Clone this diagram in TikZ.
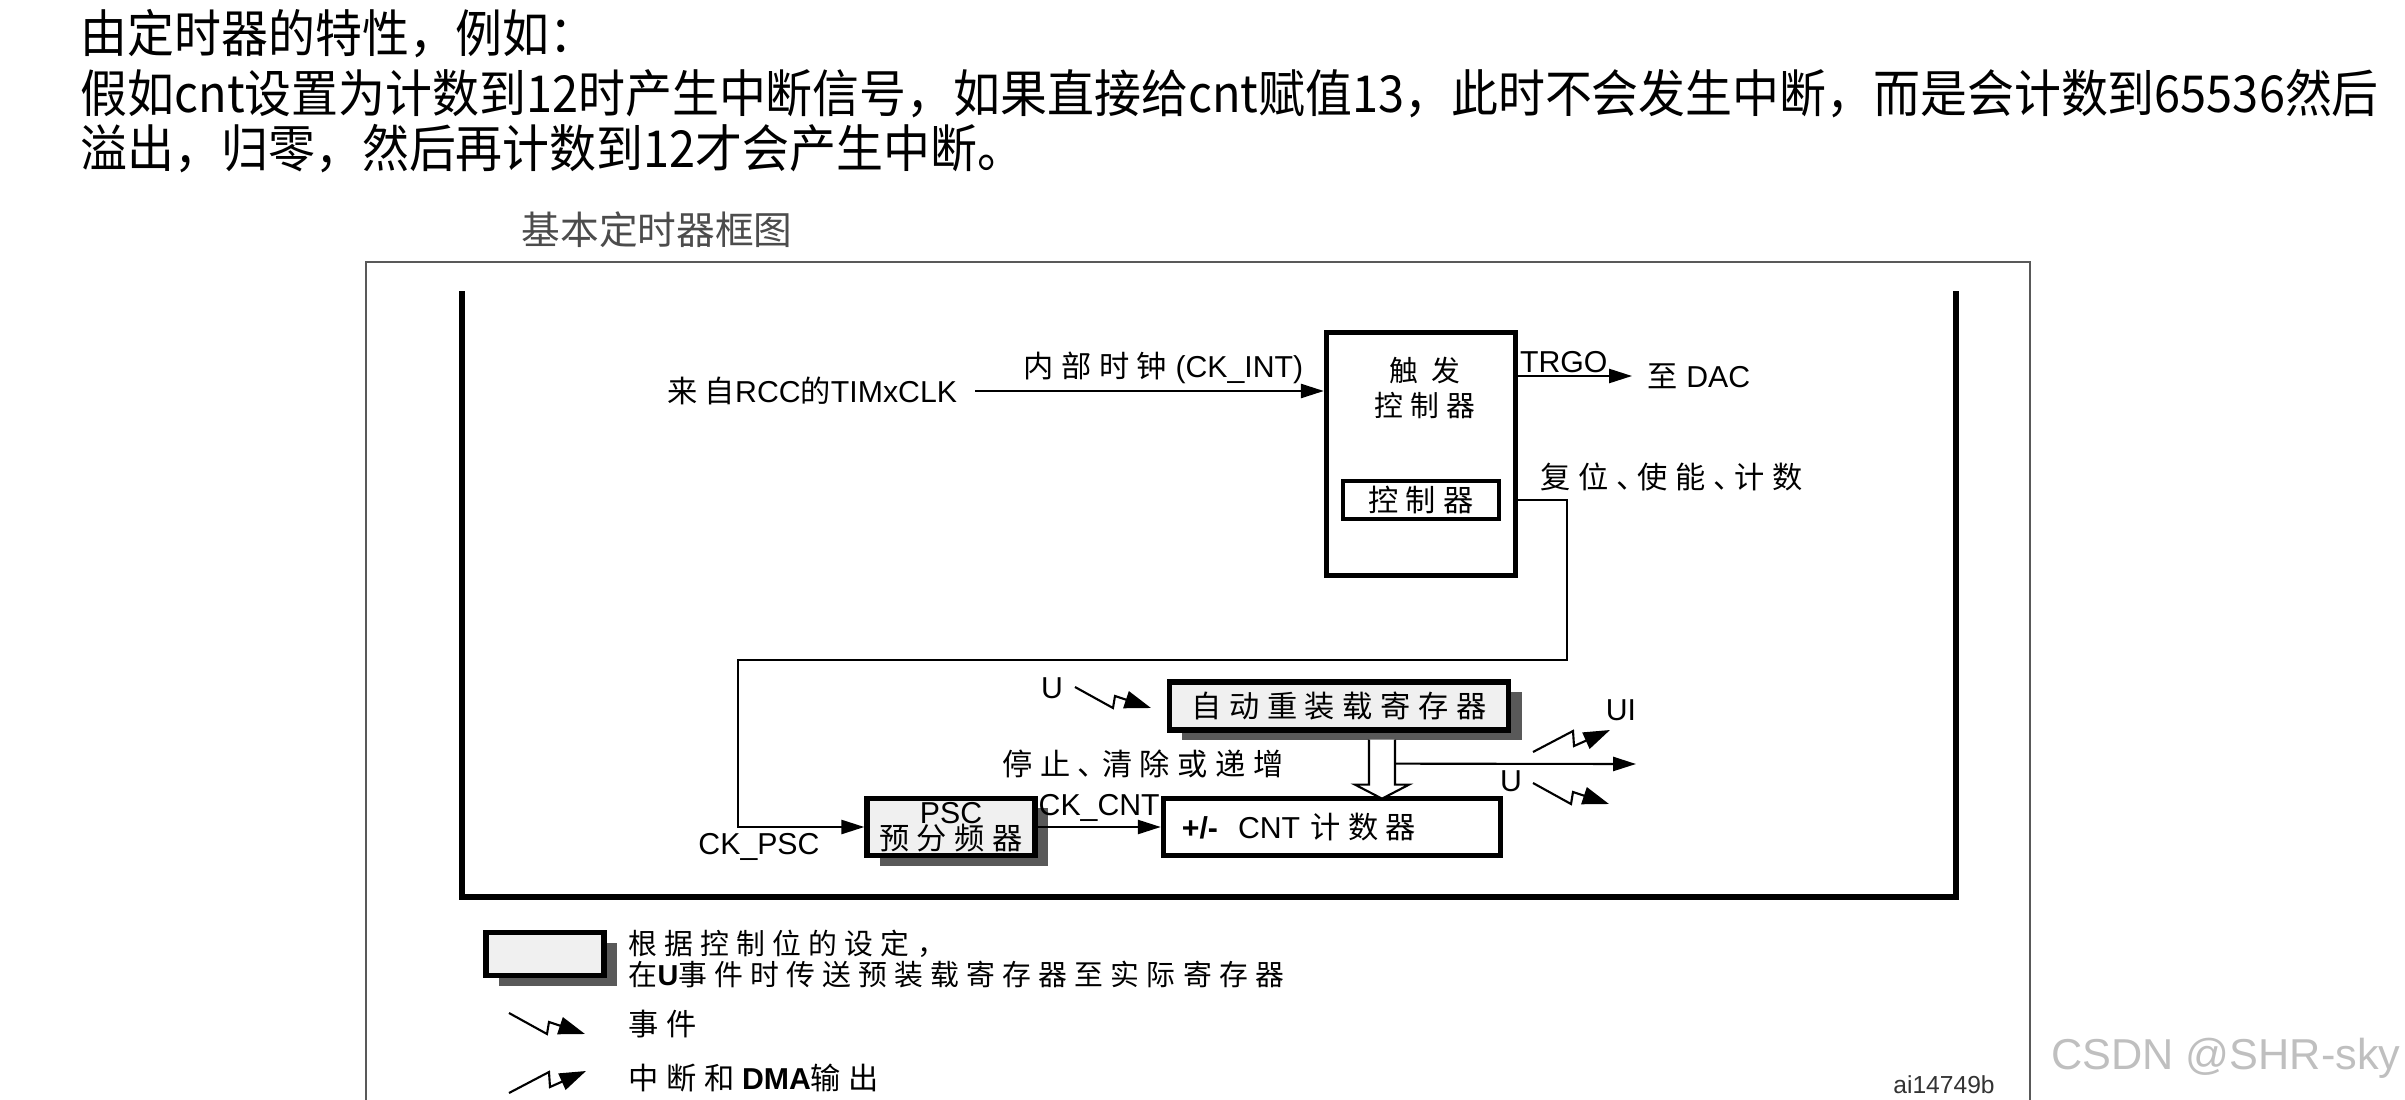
\documentclass[tikz,border=0pt]{standalone}
\usepackage{fontspec}
\setmainfont{Noto Sans CJK SC}
\newfontfamily\notefont[FakeStretch=0.92]{Noto Sans CJK SC}
\newfontfamily\zhfont[LetterSpace=25]{Noto Sans CJK SC}
\newfontfamily\enfont{Liberation Sans}
\usetikzlibrary{arrows.meta, positioning, calc, shadows}
\newcommand{\hanzi}[1]{{\zhfont #1}}
\tikzset{
    >={Triangle[length=6.5pt, width=4pt]},
    % Text
    note/.style={font=\notefont\fontsize{14.5}{16}\selectfont, anchor=west, inner sep=0pt},
    lbl/.style={font=\enfont\fontsize{8.6}{9.6}\selectfont, inner sep=0pt, align=center},
    % Frames and boxes
    frame/.style={line width=1.6pt},
    box/.style={rectangle, draw, line width=1.5pt, fill=white, inner sep=0pt, align=center,
                font=\enfont\fontsize{8.6}{7.5}\selectfont},
    regbox/.style={box, fill=black!6,
                   drop shadow={shadow xshift=0.13cm, shadow yshift=-0.1cm, fill=black!65, opacity=1}},
    wire/.style={line width=0.6pt},
    % Lightning symbols
    evt/.pic={\draw[wire, -{Triangle[length=7.5pt, width=5pt]}] (0,0) -- (38,21) -- (40,9) -- (76,21);},
    irq/.pic={\draw[wire, -{Triangle[length=7.5pt, width=5pt]}] (0,0) -- (40,-21) -- (41,-6) -- (77,-22);}
}

\begin{document}
\begin{tikzpicture}[x=0.01cm, y=-0.01cm]
\useasboundingbox (0,0) rectangle (2405,1100);

% remark above the figure
\node[note] (n1) at (80,34) {由定时器的特性，例如：};
\node[note] (n2) at (80,94) {假如cnt设置为计数到12时产生中断信号，如果直接给cnt赋值13，此时不会发生中断，而是会计数到65536然后};
\node[note] (n3) at (80,149) {溢出，归零，然后再计数到12才会产生中断。};

% figure frame
\node[lbl, font=\fontsize{11}{13}\selectfont, text=black!70, anchor=west] (title) at (521,230) {基本定时器框图};
\draw[wire, black!65] (366,1100) -- (366,262) -- (2030,262) -- (2030,1100);
\draw[frame] (462,291) -- (462,897) -- (1956,897) -- (1956,291);

% trigger controller
\node[box, minimum width=1.89cm, minimum height=2.43cm] (trig) at (1421,454) {};
\node[lbl, font=\zhfont\fontsize{8.2}{9.8}\selectfont] (trigname) at (1425,388) {触\ 发\\控制器};
\node[box, line width=1.2pt, minimum width=1.56cm, minimum height=0.38cm] (ctrl) at (1421,500) {\hanzi{控制器}};

\node[lbl, anchor=east, outer sep=0.18cm] (clk) at (975,391) {\hanzi{来自}RCC\hanzi{的}TIMxCLK};
\draw[wire, ->] (clk.east) -- node[lbl, above=0.06cm, pos=0.54] {\hanzi{内部时钟} (CK\_INT)} (clk.east -| trig.west);

\node[lbl, anchor=west, inner xsep=0.15cm] (dac) at (1632,376) {\hanzi{至} DAC};
\draw[wire, ->] (dac.west -| trig.east) -- node[lbl, above=0.02cm, pos=0.4] {TRGO} (dac.west);
\node[lbl, anchor=west] (rst) at (1540,477) {\hanzi{复位、\kern-0.3em使能、\kern-0.3em计数}};

% prescaler and counter
\node[regbox, minimum width=1.68cm, minimum height=0.57cm] (psc) at (951,827) {PSC\\\hanzi{预分频器}};
\node[lbl] (ckpsc) at (759,847) {CK\_PSC};
\draw[wire, ->] (ctrl -| trig.east) -- ++(49,0) |- (738,660) |- (psc.west);

\node[box, minimum width=3.37cm, minimum height=0.57cm, text width=3.0cm, align=left] (cnt) at (1332,827) {\textbf{+/-}\hspace{0.2cm}CNT \hanzi{计数器}};
\draw[wire, ->] (psc) -- node[lbl, above=0.04cm] {CK\_CNT} (cnt);

\node[regbox, minimum width=3.39cm, minimum height=0.48cm] (arr) at (1339,706) {\hanzi{自动重装载寄存器}};
\node[lbl] (uarr) at (1052,688) {U};
\pic at (1075,687) {evt};
\node[lbl] (stop) at (1143,764) {\hanzi{停止、\kern-0.2em清除或递增}};

% preload into counter, update outputs
\draw[wire, fill=white] ($(arr.south)+(30,7)$) -- ++(0,45) -- ++(-14,0) -- ++(27,14) -- ++(27,-14) -- ++(-14,0) -- ++(0,-45);
\coordinate (ushaft) at ($(arr.south)+(56,31)$);
\coordinate (uout) at (1636,764);
\draw[wire, ->] (ushaft) -- (uout);
\node[lbl] (ui) at (1621,710) {UI};
\pic at (1533,752) {irq};
\node[lbl] (uev) at (1511,781) {U};
\pic at (1533,783) {evt};

% legend
\node[regbox, minimum width=1.18cm, minimum height=0.43cm] (leg) at (545,954) {};
\node[lbl, anchor=west, align=left, font=\zhfont\fontsize{8.2}{9}\selectfont] (legtxt) at (628,959) {根据控制位的设定，\\在{\enfont\bfseries U}事件时传送预装载寄存器至实际寄存器};
\pic at (509,1013) {evt};
\node[lbl, anchor=west] (evttxt) at (628,1024) {\hanzi{事件}};
\pic at (509,1093) {irq};
\node[lbl, anchor=west] (irqtxt) at (628,1078) {\hanzi{中断和}\textbf{DMA}\hanzi{输出}};

\node[lbl, font=\enfont\fontsize{7}{8}\selectfont, text=black!80] (fig) at (1944,1085) {ai14749b};
\node[lbl, font=\enfont\fontsize{12.3}{14}\selectfont, text=black!25] (wm) at (2226,1058) {CSDN @SHR-sky};

\end{tikzpicture}
\end{document}
